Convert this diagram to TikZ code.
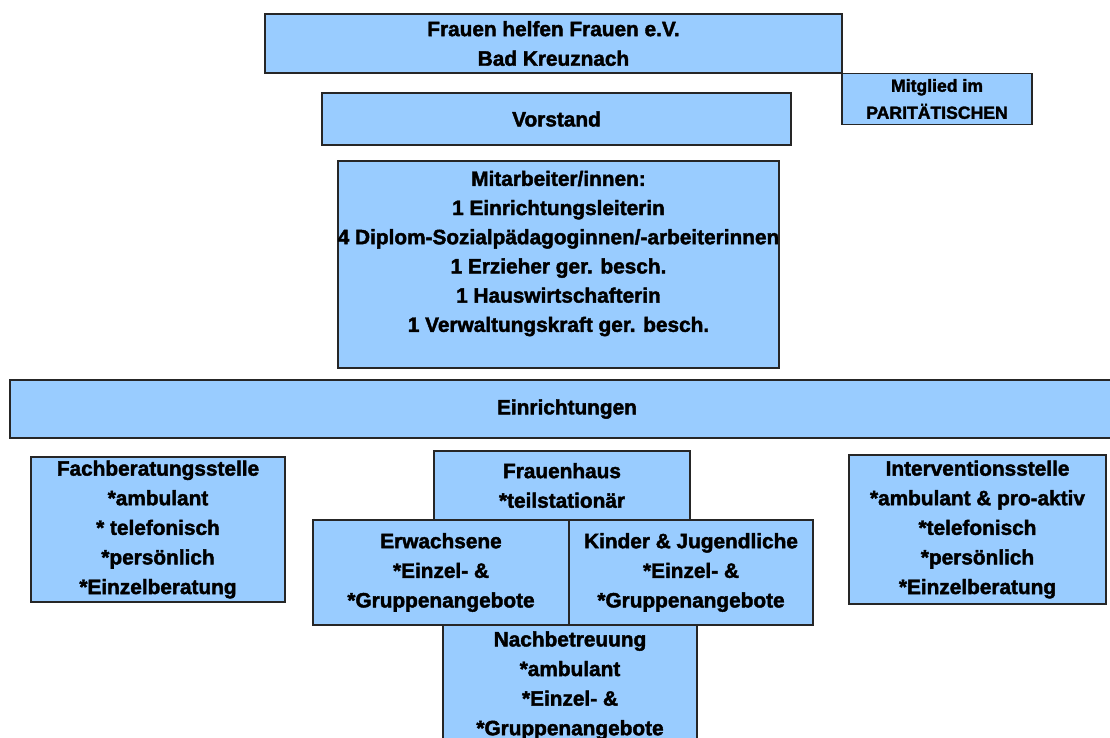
\documentclass[tikz,border=0pt]{standalone}
\usepackage{fontspec}
\newfontfamily\orgfont{Liberation Sans}[BoldFeatures={FakeBold=2}]
\definecolor{boxblue}{HTML}{99CCFF}
\definecolor{boxline}{HTML}{262626}

\begin{document}
\begin{tikzpicture}[x=1pt,y=-1pt,
    orgbox/.style={draw=boxline,fill=boxblue,line width=1.3pt,inner sep=0pt,align=center,
      font=\orgfont\bfseries\fontsize{20.8}{29.6}\selectfont},
    smallbox/.style={orgbox,font=\orgfont\bfseries\fontsize{17.6}{27}\selectfont}]
  \useasboundingbox (0,0) rectangle (1110,737);
  \clip (0,0) rectangle (1110,737);

  % Verein und Vorstand
  \node (verein) [orgbox,minimum width=577,minimum height=59] at (553.5,43.5)
    {Frauen helfen Frauen e.V.\\Bad Kreuznach};
  \node (mitglied) [smallbox,minimum width=190,minimum height=51] at (937,99)
    {Mitglied im\\PARITÄTISCHEN};
  \node (vorstand) [orgbox,minimum width=469,minimum height=52] at (556.5,119) {Vorstand};

  % Mitarbeiter/innen
  \node (staff) [orgbox,minimum width=441,minimum height=207] at (558.5,264.5) {};
  \node (staff text) [align=center,inner sep=0pt,font=\orgfont\bfseries\fontsize{20.8}{29.2}\selectfont]
    at (558.5,253.5)
    {Mitarbeiter/innen:\\1 Einrichtungsleiterin\\4 Diplom-Sozialpädagoginnen/-arbeiterinnen\\
     1 Erzieher ger. besch.\\1 Hauswirtschafterin\\1 Verwaltungskraft ger. besch.};

  \node (einr) [orgbox,minimum width=1114,minimum height=58] at (567,409) {Einrichtungen};

  % Einrichtungen
  \node (fach) [orgbox,minimum width=254,minimum height=145] at (158,529.5)
    {Fachberatungsstelle\\*ambulant\\* telefonisch\\*persönlich\\*Einzelberatung};
  \node (interv) [orgbox,minimum width=257,minimum height=149] at (977.5,529.5)
    {Interventionsstelle\\*ambulant \& pro-aktiv\\*telefonisch\\*persönlich\\*Einzelberatung};
  \node (nach) [orgbox,minimum width=254,minimum height=121] at (570,685.5)
    {Nachbetreuung\\*ambulant\\*Einzel- \&\\*Gruppenangebote};
  \node (fhaus) [orgbox,minimum width=256,minimum height=69] at (562,485.5)
    {Frauenhaus\\*teilstationär};
  \node (erw) [orgbox,minimum width=256,minimum height=105] at (441,572.5)
    {Erwachsene\\*Einzel- \&\\*Gruppenangebote};
  \node (kinder) [orgbox,minimum width=244,minimum height=105] at (691,572.5)
    {Kinder \& Jugendliche\\*Einzel- \&\\*Gruppenangebote};
\end{tikzpicture}
\end{document}
